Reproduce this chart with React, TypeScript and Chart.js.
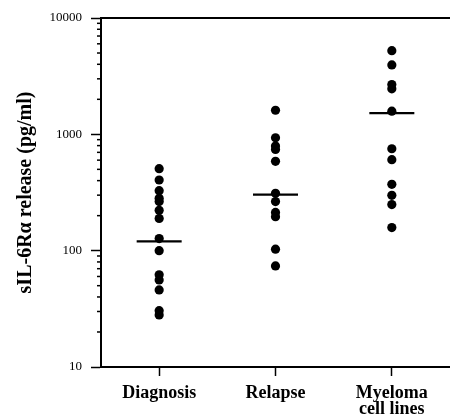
import React, { useEffect, useRef } from 'react';
import { Chart, registerables } from 'chart.js';

Chart.register(...registerables);

const categories: (string | string[])[] = ['Diagnosis', 'Relapse', ['Myeloma', 'cell lines']];
const diagnosis = [507, 405, 328, 282, 264, 222, 189, 127, 100, 62, 56, 46, 30.5, 28];
const relapse = [1610, 935, 792, 742, 586, 311, 264, 213, 196, 103, 74];
const myeloma = [5240, 3950, 2680, 2460, 1580, 752, 606, 372, 299, 249, 158];
const medians = [120, 303, 1520];
const yMajorTicks = [10, 100, 1000, 10000];
const yTickValues = [
  10, 20, 30, 40, 50, 60, 70, 80, 90,
  100, 200, 300, 400, 500, 600, 700, 800, 900,
  1000, 2000, 3000, 4000, 5000, 6000, 7000, 8000, 9000,
  10000,
];
const groups = [diagnosis, relapse, myeloma];

const FONT = "'Liberation Serif', 'Times New Roman', serif";

const minorTicksPlugin = {
  id: 'minorTicks',
  afterDraw(chart: any) {
    const y = chart.scales.y;
    const ctx = chart.ctx;
    ctx.save();
    ctx.strokeStyle = '#000';
    ctx.lineWidth = 1.5;
    y.ticks.forEach((t: any) => {
      if (yMajorTicks.includes(t.value)) return;
      const py = y.getPixelForValue(t.value);
      ctx.beginPath();
      ctx.moveTo(y.right - 4, py);
      ctx.lineTo(y.right, py);
      ctx.stroke();
    });
    ctx.restore();
  },
};

const noPad = (s: any) => {
  s.paddingLeft = 0;
  s.paddingRight = 0;
};

export default function App() {
  const ref = useRef<HTMLCanvasElement | null>(null);

  useEffect(() => {
    if (!ref.current) return;
    const dots: { x: number; y: number }[] = [];
    groups.forEach((g, i) => g.forEach((v) => dots.push({ x: i, y: v })));
    const medianPts = medians.map((v, i) => ({ x: i, y: v }));

    const chart = new Chart(ref.current, {
      type: 'scatter',
      data: {
        datasets: [
          {
            data: dots,
            backgroundColor: '#000',
            borderColor: '#000',
            pointRadius: 4.6,
            pointBorderWidth: 0,
            xAxisID: 'x',
            yAxisID: 'y',
          },
          {
            data: medianPts,
            pointStyle: 'line',
            pointRadius: 22.5,
            borderColor: '#000',
            pointBorderWidth: 2.2,
            backgroundColor: '#000',
            xAxisID: 'x',
            yAxisID: 'y',
          },
        ],
      },
      options: {
        animation: false,
        responsive: false,
        events: [],
        layout: { padding: 0, autoPadding: false },
        plugins: { legend: { display: false }, tooltip: { enabled: false } },
        scales: {
          x: {
            type: 'linear',
            position: 'bottom',
            min: -0.5,
            max: 2.5,
            afterBuildTicks: (s: any) => {
              s.ticks = categories.map((_, i) => ({ value: i }));
            },
            afterFit: (s: any) => {
              s.height = 50;
              noPad(s);
            },
            grid: {
              display: true,
              drawOnChartArea: false,
              drawTicks: true,
              tickLength: 9,
              tickWidth: 1.5,
              tickColor: '#000',
            },
            border: { display: true, color: '#000', width: 2 },
            ticks: {
              autoSkip: false,
              maxRotation: 0,
              padding: 10,
              color: '#000',
              font: { family: FONT, size: 18, weight: 'bold', lineHeight: 0.85 },
              callback: (v: any) => categories[v as number] ?? '',
            },
          },
          x2: {
            type: 'linear',
            position: 'top',
            min: -0.5,
            max: 2.5,
            afterFit: (s: any) => {
              s.height = 18;
              noPad(s);
            },
            grid: { display: false, drawTicks: false },
            border: { display: true, color: '#000', width: 2 },
            ticks: { display: false },
          },
          y: {
            type: 'logarithmic',
            position: 'left',
            min: 10,
            max: 10000,
            afterBuildTicks: (s: any) => {
              s.ticks = yTickValues.map((v) => ({ value: v, major: yMajorTicks.includes(v) }));
            },
            afterFit: (s: any) => {
              s.width = 101;
              s.paddingTop = 0;
              s.paddingBottom = 0;
            },
            grid: {
              display: true,
              drawOnChartArea: false,
              drawTicks: true,
              tickLength: 10,
              tickWidth: 1.5,
              tickColor: (c: any) => (c.tick && yMajorTicks.includes(c.tick.value) ? '#000' : 'rgba(0,0,0,0)'),
            },
            border: { display: true, color: '#000', width: 2 },
            ticks: {
              autoSkip: false,
              padding: 9,
              color: '#000',
              font: { family: FONT, size: 13 },
              callback: (v: any) => (yMajorTicks.includes(v as number) ? String(v) : ''),
            },
            title: {
              display: true,
              text: 'sIL-6Rα release (pg/ml)',
              color: '#000',
              padding: { top: 14, bottom: 0 },
              font: { family: FONT, size: 20, weight: 'bold' },
            },
          },
        },
      },
      plugins: [minorTicksPlugin],
    } as any);

    return () => chart.destroy();
  }, []);

  return (
    <div style={{ position: 'absolute', left: 0, top: 0, width: 450, height: 417 }}>
      <canvas ref={ref} width={450} height={417} style={{ display: 'block' }} />
    </div>
  );
}
